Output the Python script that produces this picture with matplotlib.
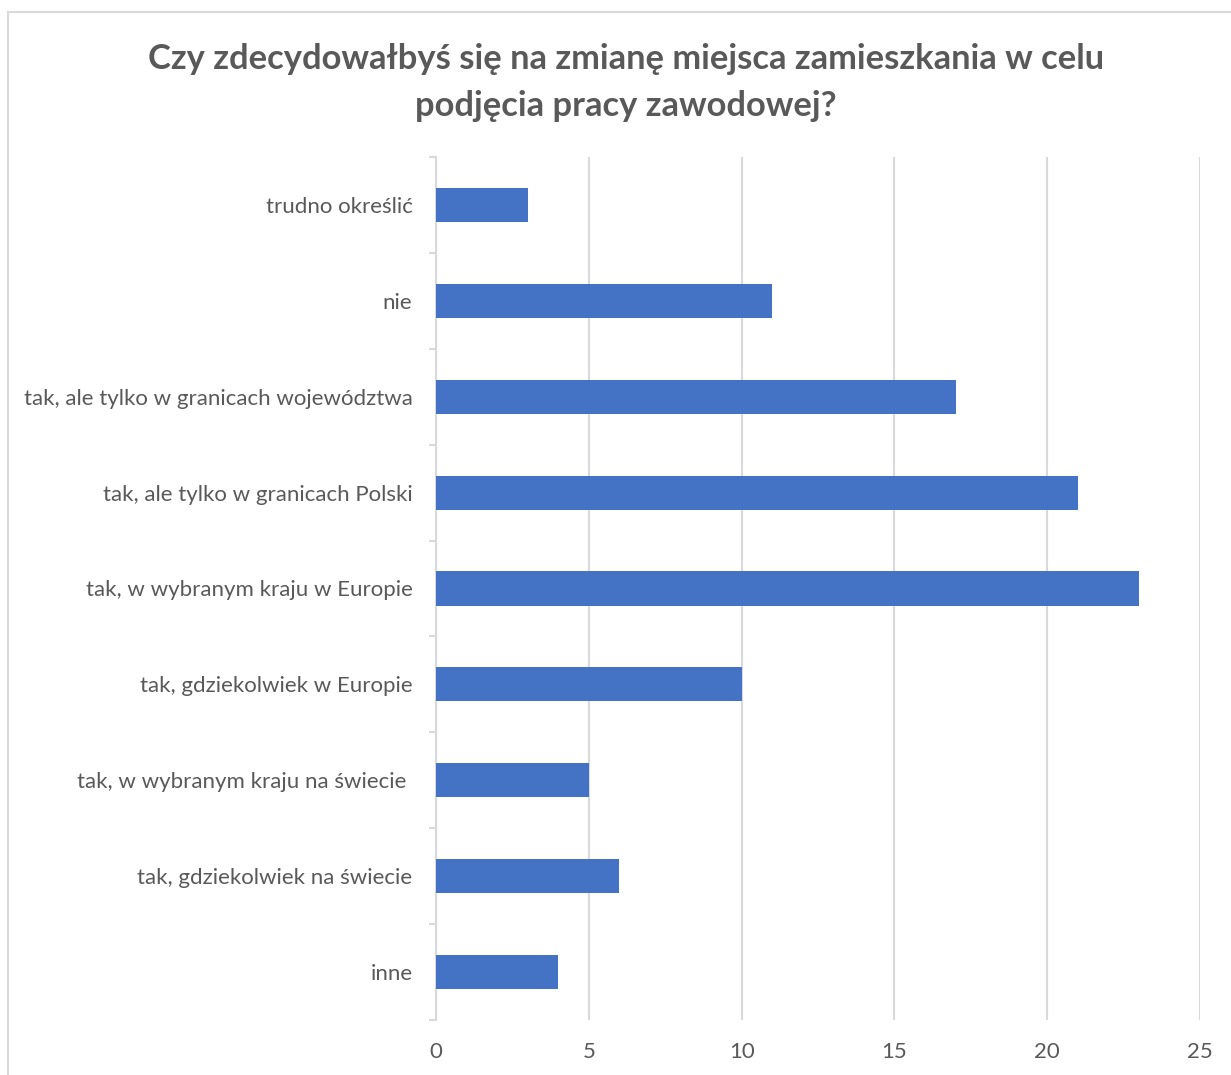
import matplotlib
matplotlib.use("Agg")
import matplotlib.pyplot as plt
from matplotlib.patches import Rectangle

categories = [
    "trudno określić",
    "nie",
    "tak, ale tylko w granicach województwa",
    "tak, ale tylko w granicach Polski",
    "tak, w wybranym kraju w Europie",
    "tak, gdziekolwiek w Europie",
    "tak, w wybranym kraju na świecie ",
    "tak, gdziekolwiek na świecie",
    "inne",
]
values = [3, 11, 17, 21, 23, 10, 5, 6, 4]
xticks = [0, 5, 10, 15, 20, 25]
title = "Czy zdecydowałbyś się na zmianę miejsca zamieszkania w celu\npodjęcia pracy zawodowej?"

plt.rcParams['font.family'] = ['Lato', 'DejaVu Sans']
text_col = "#595959"
grid_col = "#D9D9D9"

fig = plt.figure(figsize=(12.31, 10.75), dpi=100)
fig.patches.append(Rectangle((8/1231, -0.1), 1.2, 1 - 12/1075 + 0.1, transform=fig.transFigure,
                             fill=False, edgecolor=grid_col, linewidth=1.5))
ax = fig.add_axes([436/1231, 1 - 1020/1075, (1200 - 436)/1231, (1020 - 157)/1075])

ypos = list(range(len(categories)))
ax.barh(ypos, values, height=0.355, color="#4472C4", zorder=3)
ax.set_ylim(len(categories) - 0.5, -0.5)
ax.set_xlim(0, 25)
ax.set_xticks(xticks)
ax.set_xticklabels([str(t) for t in xticks])
ax.set_yticks(ypos)
ax.set_yticklabels(categories)
ax.set_yticks([i - 0.5 for i in range(len(categories) + 1)], minor=True)
ax.tick_params(axis='y', which='major', length=0, pad=17, labelsize=16, labelcolor=text_col)
ax.tick_params(axis='y', which='minor', length=5, color=grid_col, width=1.5)
ax.tick_params(axis='x', length=0, pad=16, labelsize=16, labelcolor=text_col)
ax.grid(axis='x', color=grid_col, linewidth=1.5, zorder=0)
ax.set_axisbelow(True)
for s in ['top', 'right', 'bottom']:
    ax.spines[s].set_visible(False)
ax.spines['left'].set_color(grid_col)
ax.spines['left'].set_linewidth(1.5)

fig.text(626/1231, 1 - 82.5/1075, title, ha='center', va='center', fontsize=24.8,
         fontweight='bold', color=text_col, linespacing=1.55)

fig.savefig("out.png", dpi=100)
